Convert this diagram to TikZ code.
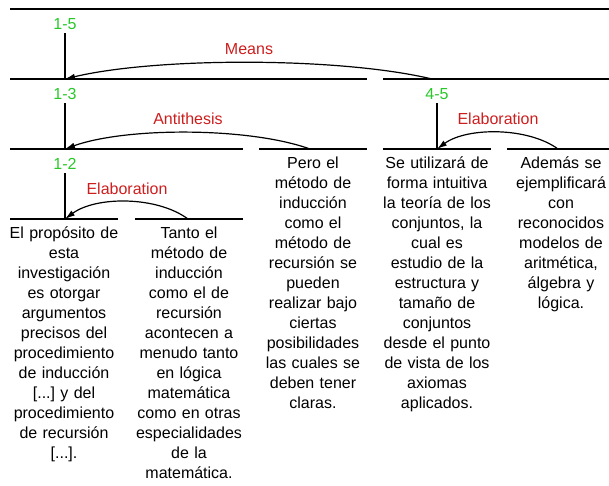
\documentclass[tikz,border=0pt]{standalone}
\usepackage{fontspec}
\setmainfont{Liberation Sans}
\usetikzlibrary{arrows.meta}
\definecolor{spangreen}{RGB}{40,200,40}
\definecolor{relred}{RGB}{205,30,30}
\frenchspacing

\begin{document}
\begin{tikzpicture}[x=1pt,y=-1pt,line width=1.2pt,
    every node/.style={inner sep=0,font=\fontsize{16}{20}\selectfont},
    span/.style={text=spangreen},
    rel/.style={text=relred},
    leaf/.style={anchor=north,text width=122pt,align=center},
    arc/.style={-{Latex[length=10pt,width=6pt]}}]
  \useasboundingbox (0,0) rectangle (609,485);
  % span bars
  \draw (10,9) -- (615,9);
  \draw (10,79) -- (367,79) (383,79) -- (615,79);
  \draw (10,149) -- (243,149) (259,149) -- (367,149) (383,149) -- (491,149) (507,149) -- (615,149);
  \draw (10,219) -- (118,219) (135,219) -- (243,219);
  % spans
  \node[span] (1-5) at (65,24) {1-5};
  \node[span] (1-3) at (65,94) {1-3};
  \node[span] (1-2) at (65,164) {1-2};
  \node[span] (4-5) at (437,94) {4-5};
  \coordinate (n13) at (65,79);
  \coordinate (n12) at (65,149);
  \coordinate (n1) at (65,219);
  \coordinate (n4) at (437,149);
  \draw ([yshift=-3pt]1-5.south) -- (n13);
  \draw ([yshift=-3pt]1-3.south) -- (n12);
  \draw ([yshift=-3pt]1-2.south) -- (n1);
  \draw ([yshift=-3pt]4-5.south) -- (n4);
  % satellites
  \coordinate (s45) at (432,79);
  \coordinate (s3) at (310,149);
  \coordinate (s2) at (188,219);
  \coordinate (s5) at (558,149);
  \draw[arc] (s45) .. controls +(-92,-22) and +(92,-22) .. (n13);
  \draw[arc] (s3) .. controls +(-61,-22) and +(61,-22) .. (n12);
  \draw[arc] (s2) .. controls +(-31,-23) and +(31,-23) .. (n1);
  \draw[arc] (s5) .. controls +(-30,-22) and +(30,-22) .. (n4);
  \node[rel] (means) at (249,49) {Means};
  \node[rel] (anti) at (188,119) {Antithesis};
  \node[rel] (elab1) at (127,189) {Elaboration};
  \node[rel] (elab2) at (498,119) {Elaboration};
  % text of the units
  \node[leaf] (e1) at (64,226) {El propósito de\\esta\\investigación\\es otorgar\\argumentos\\precisos del\\procedimiento\\de inducción\\{[...]} y del\\procedimiento\\de recursión\\{[...]}.};
  \node[leaf] (e2) at (189,226) {Tanto el\\método de\\inducción\\como el de\\recursión\\acontecen a\\menudo tanto\\en lógica\\matemática\\como en otras\\especialidades\\de la\\matemática.};
  \node[leaf] (e3) at (313,156) {Pero el\\método de\\inducción\\como el\\método de\\recursión se\\pueden\\realizar bajo\\ciertas\\posibilidades\\las cuales se\\deben tener\\claras.};
  \node[leaf] (e4) at (437,156) {Se utilizará de\\forma intuitiva\\la teoría de los\\conjuntos, la\\cual es\\estudio de la\\estructura y\\tamaño de\\conjuntos\\desde el punto\\de vista de los\\axiomas\\aplicados.};
  \node[leaf] (e5) at (561,156) {Además se\\ejemplificará\\con\\reconocidos\\modelos de\\aritmética,\\álgebra y\\lógica.};
\end{tikzpicture}
\end{document}
